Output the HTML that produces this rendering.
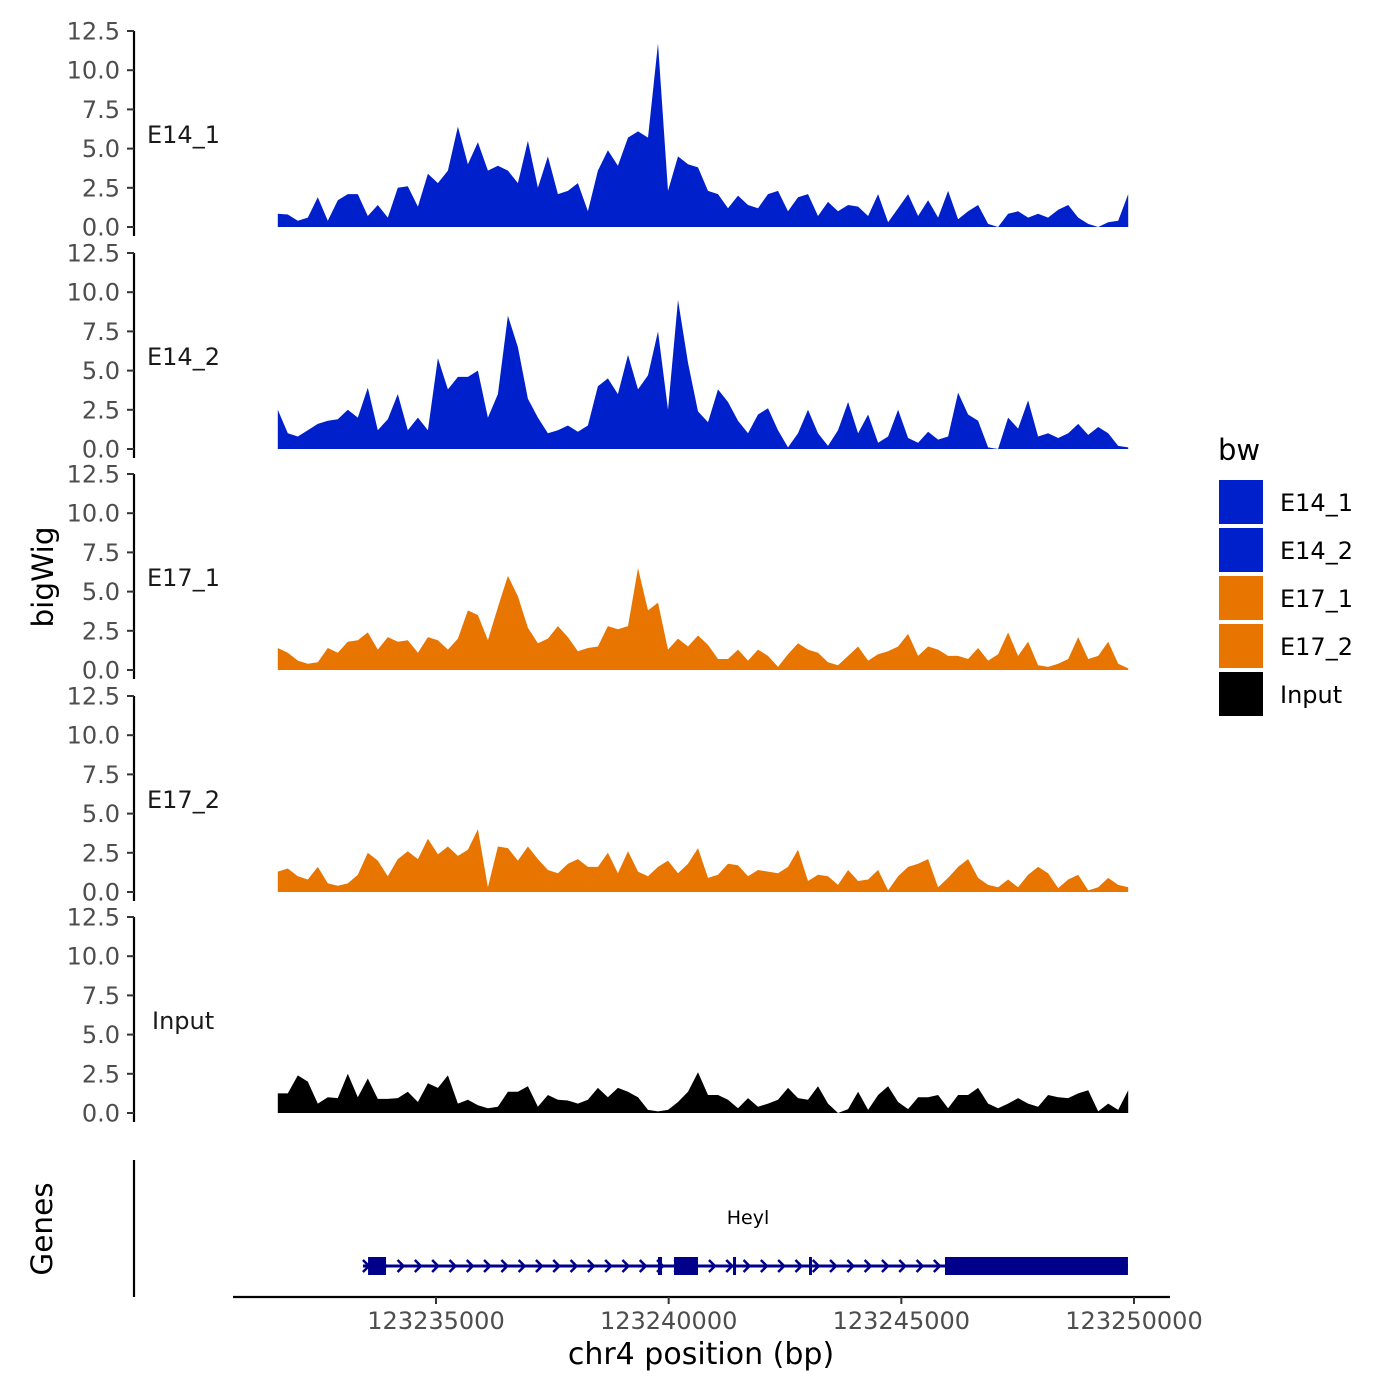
<!DOCTYPE html>
<html><head><meta charset="utf-8">
<style>
html,body{margin:0;padding:0;background:#fff;}
svg{display:block;font-family:"DejaVu Sans","Liberation Sans",sans-serif;}
</style></head>
<body>
<svg id="chart" width="1400" height="1400" viewBox="0 0 1400 1400" xmlns="http://www.w3.org/2000/svg"></svg>
<script>
const sampleNames = ["E14_1","E14_2","E17_1","E17_2","Input"];
const sampleColors = ["#0020CC","#0020CC","#E87500","#E87500","#000000"];
const yTicks = [0,2.5,5,7.5,10,12.5];
const yTickLabels = ["0.0","2.5","5.0","7.5","10.0","12.5"];
const xTicks = [123235000,123240000,123245000,123250000];
const xTickLabels = ["123235000","123240000","123245000","123250000"];
const binStart = 123231600;
const binSize = 215;
const valsE14_1 = [0.85,0.8,0.4,0.6,1.9,0.4,1.7,2.1,2.1,0.7,1.4,0.6,2.5,2.6,1.3,3.4,2.8,3.6,6.4,4.0,5.4,3.6,3.9,3.6,2.8,5.5,2.5,4.5,2.1,2.3,2.8,1.0,3.6,4.9,3.9,5.7,6.1,5.7,11.7,2.3,4.5,4.0,3.8,
2.3,2.1,1.2,2.0,1.4,1.2,2.1,2.3,1.0,1.9,2.1,0.7,1.6,1.0,1.4,1.3,0.7,2.1,0.3,1.2,2.1,0.7,1.7,0.6,2.3,0.5,1.0,1.4,0.2,0,0.85,1.0,0.6,0.85,0.6,1.1,1.4,0.6,0.2,0,0.3,0.4,2.1];
const valsE14_2 = [2.5,1.0,0.8,1.2,1.6,1.8,1.9,2.5,2.0,3.9,1.2,1.9,3.5,1.2,2.0,1.2,5.8,3.8,4.6,4.6,5.0,2.0,3.5,8.5,6.5,3.2,2.0,1.0,1.2,1.5,1.1,1.5,4.0,4.5,3.5,6.0,3.8,4.7,7.5,2.5,9.5,5.5,2.4,1.7,3.8,3.0,1.8,1.0,2.2,2.6,1.2,0.1,1.0,2.5,1.0,0.2,1.2,3.0,1.0,2.2,0.4,0.8,2.5,0.7,0.4,1.1,0.6,0.8,3.6,2.2,1.8,0.1,0,2.0,1.3,3.1,0.8,1.0,0.7,1.0,1.6,0.9,1.4,1.0,0.2,0.1];
const valsE17_1 = [1.4,1.1,0.6,0.4,0.5,1.4,1.1,1.8,1.9,2.4,1.3,2.1,1.8,1.9,1.1,2.1,1.9,1.3,2.0,3.8,3.5,1.9,4.0,6.0,4.7,2.7,1.7,2.0,2.8,2.1,1.2,1.4,1.5,2.8,2.6,2.8,6.5,3.8,4.3,1.3,2.0,1.5,2.2,1.6,0.7,0.7,1.3,0.6,1.3,0.9,0.2,1.0,1.7,1.3,1.1,0.5,0.3,0.9,1.5,0.6,1.0,1.2,1.5,2.3,0.9,1.5,1.3,0.9,0.9,0.7,1.4,0.6,1.0,2.4,0.9,1.8,0.3,0.2,0.4,0.7,2.1,0.7,0.9,1.8,0.4,0.1];
const valsE17_2 = [1.3,1.5,1.0,0.8,1.6,0.55,0.4,0.55,1.1,2.5,2.0,1.0,2.1,2.6,2.1,3.4,2.4,2.9,2.3,2.7,4.0,0.3,2.9,2.8,2.0,2.9,2.1,1.4,1.2,1.8,2.1,1.6,1.6,2.5,1.2,2.6,1.3,1.0,1.6,2.0,1.2,1.8,2.8,0.9,1.1,1.8,1.7,1.0,1.4,1.3,1.2,1.6,2.7,0.7,1.1,1.0,0.45,1.4,0.7,0.8,1.4,0.1,1.0,1.6,1.8,2.1,0.3,0.9,1.6,2.1,0.9,0.45,0.3,0.8,0.3,1.1,1.6,1.2,0.25,0.8,1.1,0.1,0.3,0.9,0.45,0.3];
const valsInput = [1.25,1.25,2.4,2.0,0.6,1.0,0.95,2.5,1.0,2.2,0.9,0.9,0.95,1.35,0.7,1.9,1.6,2.4,0.6,0.85,0.5,0.3,0.4,1.35,1.35,1.7,0.4,1.15,0.85,0.8,0.6,0.85,1.6,1.0,1.6,1.35,1.0,0.2,0.1,0.2,0.7,1.35,2.6,1.15,1.15,0.85,0.3,0.95,0.4,0.6,0.85,1.6,0.95,0.85,1.7,0.6,0,0.25,1.35,0.2,1.15,1.7,0.7,0.25,1.0,1.0,1.15,0.3,1.15,1.15,1.6,0.6,0.3,0.6,0.95,0.6,0.4,1.15,1.0,0.95,1.25,1.45,0.1,0.6,0.2,1.45];
const geneName = "Heyl";
const geneStart = 123233430, geneEnd = 123249870;
const exonStarts = [123233540,123239770,123240115,123241383,123243016,123245938];
const exonEnds   = [123233926,123239857,123240630,123241447,123243080,123249870];

const seriesVals = [valsE14_1,valsE14_2,valsE17_1,valsE17_2,valsInput];
const NS="http://www.w3.org/2000/svg";
const svg=document.getElementById('chart');
function mk(tag,attrs,parent){const e=document.createElementNS(NS,tag);for(const k in attrs)e.setAttribute(k,attrs[k]);(parent||svg).appendChild(e);return e;}
function xScale(bp){return 436+(bp-123235000)*698/15000;}
const panelZero=[227,449,670,892,1113];
const pxPerUnit=15.68;

for(let p=0;p<5;p++){
  const y0=panelZero[p];
  const yS=v=>y0-v*pxPerUnit;
  const g=mk('g',{});
  
  
  const ax=mk('line',{x1:134,x2:134,y1:yS(12.5),y2:y0+9,stroke:'#000','stroke-width':2.2},g);
  
  
  yTicks.forEach((t,i)=>{
    const tk=mk('line',{x1:127,x2:134,y1:yS(t),y2:yS(t),stroke:'#333','stroke-width':2},g);
    
    
    const tl=mk('text',{x:120,y:yS(t)+8.5,'text-anchor':'end','font-size':24,fill:'#4d4d4d'},g);
    tl.textContent=yTickLabels[i];
    
    
  });
  const lab=mk('text',{x:p===4?152:147,y:y0-84,'font-size':24,fill:'#1a1a1a'},g);
  lab.textContent=sampleNames[p];
  
  
  const vals=seriesVals[p];
  let d='M'+xScale(binStart).toFixed(1)+','+y0;
  vals.forEach((v,i)=>{d+=' L'+xScale(binStart+i*binSize).toFixed(1)+','+yS(v).toFixed(1);});
  d+=' L'+xScale(binStart+(vals.length-1)*binSize).toFixed(1)+','+y0+' Z';
  const area=mk('path',{d:d,fill:sampleColors[p]},g);
  
  
}
const yt=mk('text',{x:0,y:0,'font-size':29.5,fill:'#000','text-anchor':'middle',transform:'translate(53,577) rotate(-90)'});
yt.textContent='bigWig';


const gAx=mk('line',{x1:134,x2:134,y1:1160,y2:1297,stroke:'#000','stroke-width':2.2});


const gt=mk('text',{x:0,y:0,'font-size':29.5,fill:'#000','text-anchor':'middle',transform:'translate(52,1229) rotate(-90)'});
gt.textContent='Genes';


const gy=1266;
const gl=mk('line',{x1:xScale(geneStart),x2:xScale(geneEnd),y1:gy,y2:gy,stroke:'#00008B','stroke-width':3});


for(let x=xScale(geneStart)+3;x<xScale(geneEnd)-10;x+=17.3){
  const ar=mk('path',{d:`M${x-3},${gy-6} L${x+3},${gy} L${x-3},${gy+6}`,fill:'none',stroke:'#00008B','stroke-width':2.5});
  
  
}
exonStarts.forEach((s,i)=>{
  const x1=xScale(s),x2=xScale(exonEnds[i]);
  const ex=mk('rect',{x:x1,y:gy-9,width:Math.max(x2-x1,3),height:18,fill:'#00008B'});
  
  
});
const gn=mk('text',{x:748,y:1224,'text-anchor':'middle','font-size':19,fill:'#000'});
gn.textContent=geneName;


const xa=mk('line',{x1:233,x2:1170,y1:1297,y2:1297,stroke:'#000','stroke-width':2.2});


xTicks.forEach((t,i)=>{
  const tk=mk('line',{x1:xScale(t),x2:xScale(t),y1:1297,y2:1304,stroke:'#333','stroke-width':2});
  
  
  const tl=mk('text',{x:xScale(t),y:1329,'text-anchor':'middle','font-size':24,fill:'#4d4d4d'});
  tl.textContent=xTickLabels[i];
  
  
});
const xt=mk('text',{x:701,y:1364,'text-anchor':'middle','font-size':30,fill:'#000'});
xt.textContent='chr4 position (bp)';


const lt=mk('text',{x:1218,y:460,'font-size':29,fill:'#000'});
lt.textContent='bw';


sampleNames.forEach((n,i)=>{
  const y=480+i*48;
  const r=mk('rect',{x:1219,y:y,width:44,height:44,fill:sampleColors[i]});
  
  
  const t=mk('text',{x:1280,y:y+31,'font-size':24,fill:'#000'});
  t.textContent=n;
  
  
});
</script>
</body></html>
